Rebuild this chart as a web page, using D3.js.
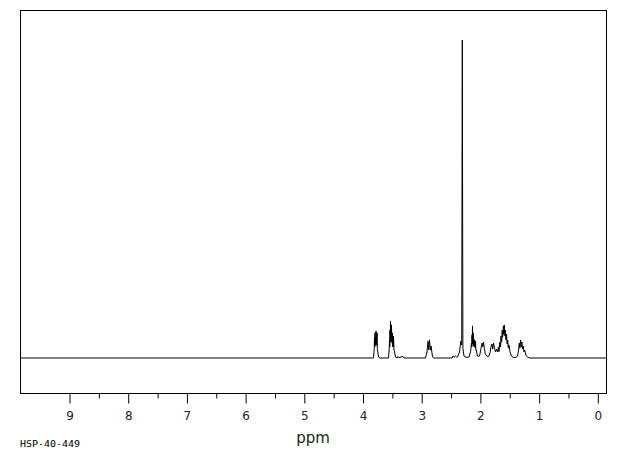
<!DOCTYPE html>
<html><head><meta charset="utf-8">
<script src="https://cdn.jsdelivr.net/npm/d3@7"></script>
<style>body{margin:0;background:#fff}svg{display:block}</style>
</head><body>
<svg id="c" width="620" height="455"></svg>
<script>
// Spectrum trace: chemical shift (ppm) and relative intensity (tallest = 100)
const ppm = [9.835,3.830,3.813,3.800,3.796,3.791,3.787,3.783,3.779,3.774,3.770,3.766,3.761,3.757,3.753,3.748,3.744,3.727,3.702,
 3.557,3.545,3.540,3.536,3.532,3.528,3.523,3.519,3.514,3.510,3.506,3.502,3.497,3.493,3.489,3.485,3.480,3.476,3.472,3.464,3.455,3.438,3.410,3.395,3.378,3.310,3.293,
 2.927,2.901,2.884,2.872,2.859,2.845,2.833,2.807,2.782,
 2.475,2.458,2.441,2.416,2.399,
 2.382,2.348,2.325,2.310,2.300,2.290,2.271,2.237,
 2.186,2.160,2.143,2.139,2.135,2.131,2.126,2.122,2.118,2.114,2.109,2.105,2.101,2.097,2.092,2.088,2.083,2.079,2.075,2.069,2.063,2.041,2.015,
 1.998,1.981,1.964,1.952,1.939,1.925,1.908,1.879,1.845,
 1.828,1.811,1.794,1.782,1.768,1.751,1.734,1.717,1.700,
 1.683,1.675,1.661,1.649,1.641,1.635,1.630,1.625,1.620,1.615,1.610,1.605,1.600,1.595,1.589,1.586,1.583,1.578,1.572,1.568,1.564,1.560,1.555,1.550,1.545,1.540,1.535,1.530,1.525,1.520,1.514,1.509,1.504,1.487,1.462,1.436,1.385,
 1.359,1.342,1.329,1.319,1.307,1.296,1.285,1.274,1.262,1.249,1.237,1.215,1.181,1.147,-0.148];
const intensity = [0,0,0,3.0,6.6,3.5,7.9,4.0,6.5,4.5,8.5,4.5,7.0,4.0,7.9,3.0,2.5,0.3,0,
 0,3.0,5.7,3.5,8.8,5.0,11.6,6.0,9.5,6.0,10.4,5.0,7.5,4.5,7.9,3.5,5.5,3.5,6.9,2.5,1.9,0.3,0,0.5,0.1,0.5,0,
 0,1.9,5.3,2.5,5.7,2.5,3.8,0.3,0,
 0,0.6,0.2,0.6,0.3,
 0.3,1.9,5.3,4.1,100,3.1,0.6,0.2,
 0.3,1.9,4.7,3.5,7.2,5.0,10.1,4.5,5.7,4.0,7.9,3.8,5.0,3.5,5.7,3.5,4.8,3.2,5.3,2.5,2.5,0.6,0.5,
 1.3,3.1,4.7,3.5,5.0,3.1,1.3,0.5,0.6,
 1.6,3.5,4.4,2.8,4.7,3.1,1.9,2.8,1.9,
 3.5,2.0,5.0,3.5,6.9,5.0,5.0,6.5,8.8,6.5,6.9,8.0,10.1,7.5,8.2,9.5,10.4,7.5,6.9,8.5,8.8,6.0,5.7,7.0,7.5,5.0,4.4,5.5,5.7,3.5,3.1,4.1,4.1,1.9,0.6,0.2,0.2,
 0.6,2.5,4.7,3.1,5.7,3.5,5.0,2.8,3.8,1.9,2.5,0.8,0.2,0,0];
const majorTicks = [9,8,7,6,5,4,3,2,1,0];
const minorTicks = [8.5,7.5,6.5,5.5,4.5,3.5,2.5,1.5,0.5];
const xLabel = "ppm";
const sampleId = "HSP-40-449";

const svg = d3.select("#c");
const L = 20, R = 606, T = 10, B = 393;
const x = d3.scaleLinear().domain([9.835, -0.148]).range([L, R]);
const y = d3.scaleLinear().domain([0, 100]).range([358, 40]);

// frame
svg.append("rect").attr("x", L + 0.5).attr("y", T + 0.5)
  .attr("width", R - L).attr("height", B - T)
  .attr("fill", "none").attr("stroke", "#000").attr("stroke-width", 1);

// spectrum
const data = ppm.map((p, i) => [p, intensity[i]]);
svg.append("path").datum(data)
  .attr("d", d3.line().x(d => x(d[0])).y(d => y(d[1])))
  .attr("fill", "none").attr("stroke", "#000").attr("stroke-width", 1);

// axes
const axisMajor = d3.axisBottom(x).tickValues(majorTicks).tickSize(10).tickPadding(8).tickFormat(d3.format("d"));
const gMaj = svg.append("g").attr("transform", `translate(0.5,${B + 0.5})`).call(axisMajor);
gMaj.select(".domain").remove();
gMaj.selectAll("text").attr("font-family", "DejaVu Sans, sans-serif").attr("font-size", 12).attr("fill", "#222");
const axisMinor = d3.axisBottom(x).tickValues(minorTicks).tickSize(5).tickFormat("");
const gMin = svg.append("g").attr("transform", `translate(0.5,${B + 0.5})`).call(axisMinor);
gMin.select(".domain").remove();

svg.append("text").attr("x", 313).attr("y", 443).attr("text-anchor", "middle")
  .attr("font-family", "DejaVu Sans, sans-serif").attr("font-size", 15).attr("fill", "#222").text(xLabel);
svg.append("text").attr("x", 20).attr("y", 447)
  .attr("font-family", "DejaVu Sans Mono, monospace").attr("font-size", 8.5)
  .attr("textLength", 60).attr("lengthAdjust", "spacingAndGlyphs").attr("fill", "#000").text(sampleId);
</script>
</body></html>
